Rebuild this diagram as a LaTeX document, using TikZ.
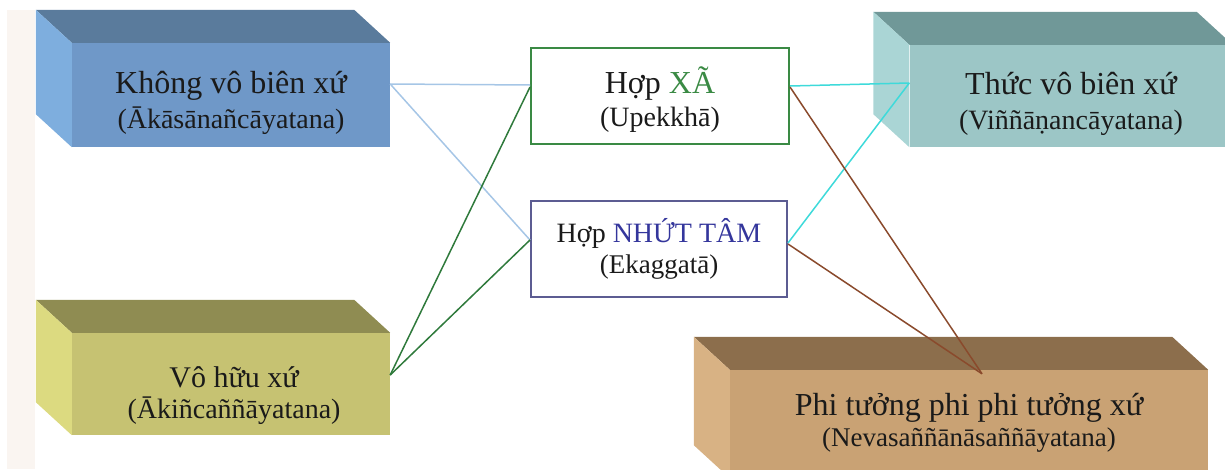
\documentclass[tikz,border=0pt]{standalone}
\usepackage{fontspec}
\setmainfont{Liberation Serif}
\usetikzlibrary{positioning,calc}

\definecolor{txtdark}{HTML}{1A1A1A}
\definecolor{stripbg}{HTML}{FAF5F1}
\definecolor{kvbFront}{HTML}{6F98C8}
\definecolor{kvbTop}{HTML}{5A7B9C}
\definecolor{kvbSide}{HTML}{7EAEDE}
\definecolor{tvbFront}{HTML}{9CC6C6}
\definecolor{tvbTop}{HTML}{709898}
\definecolor{tvbSide}{HTML}{AAD5D5}
\definecolor{vhxFront}{HTML}{C6C272}
\definecolor{vhxTop}{HTML}{8F8C52}
\definecolor{vhxSide}{HTML}{DCDA80}
\definecolor{ptFront}{HTML}{C9A274}
\definecolor{ptTop}{HTML}{8C6E4C}
\definecolor{ptSide}{HTML}{D8B284}
\definecolor{xaGreen}{HTML}{3A8A44}
\definecolor{ntBlue}{HTML}{5C5C92}
\definecolor{ntText}{HTML}{34369C}
\definecolor{lineBlue}{HTML}{A6C6E6}
\definecolor{lineGreen}{HTML}{2F7A3C}
\definecolor{lineCyan}{HTML}{3EDADA}
\definecolor{lineBrown}{HTML}{8A4A2C}

\begin{document}
\begin{tikzpicture}[x=1pt, y=-1pt,
    face/.style={rectangle, inner sep=0pt},
    lbl/.style={inner sep=0pt, align=center, text=txtdark, font=\fontsize{32}{35}\selectfont},
    mid/.style={rectangle, inner sep=0pt, fill=white, draw, line width=2pt},
    link/.style={line width=1.5pt}]
  \useasboundingbox (0,0) rectangle (1225,469);
  \fill[stripbg] (7,10) rectangle (35,469);

  % front faces of the four blocks
  \node[face, fill=kvbFront, minimum width=318pt, minimum height=104pt] (kvb) at (231,95) {};
  \node[face, fill=tvbFront, minimum width=323pt, minimum height=102pt] (tvb) at (1071,96) {};
  \node[face, fill=vhxFront, minimum width=318pt, minimum height=102pt] (vhx) at (231,384) {};
  \node[face, fill=ptFront, minimum width=478pt, minimum height=108pt] (pt) at (969,424) {};

  % top and side faces
  \foreach \b/\ct/\cs in {kvb/kvbTop/kvbSide, tvb/tvbTop/tvbSide, vhx/vhxTop/vhxSide, pt/ptTop/ptSide} {
    \fill[\ct] ($(\b.north west)+(-36,-33)$) -- ($(\b.north east)+(-36,-33)$)
      -- (\b.north east) -- (\b.north west) -- cycle;
    \fill[\cs] ($(\b.north west)+(-36,-33)$) -- (\b.north west)
      -- (\b.south west) -- ($(\b.south west)+(-36,-33)$) -- cycle;
  }

  % the two middle boxes
  \node[mid, draw=xaGreen, minimum width=258pt, minimum height=96pt] (xa) at (660,96) {};
  \node[mid, draw=ntBlue, minimum width=256pt, minimum height=96pt] (nt) at (659,249) {};

  % texts
  \node[lbl] (kvbtext) at ([yshift=-8pt]kvb.center)
    {Không vô biên xứ\\{\fontsize{28}{35}\selectfont (Ākāsānañcāyatana)}};
  \node[lbl] (tvbtext) at ([yshift=-8pt]tvb.center)
    {Thức vô biên xứ\\{\fontsize{28}{35}\selectfont (Viññāṇancāyatana)}};
  \node[lbl, font=\fontsize{30}{31}\selectfont] (vhxtext) at ([xshift=3pt, yshift=-12pt]vhx.center)
    {Vô hữu xứ\\{\fontsize{28}{31}\selectfont (Ākiñcaññāyatana)}};
  \node[lbl, font=\fontsize{32}{31}\selectfont] (pttext) at ([yshift=1pt]pt.center)
    {Phi tưởng phi phi tưởng xứ\\{\fontsize{27}{31}\selectfont (Nevasaññānāsaññāyatana)}};
  \node[lbl, font=\fontsize{32}{33}\selectfont] (xatext) at ([yshift=-4pt]xa.center)
    {Hợp {\color{xaGreen}XÃ}\\{\fontsize{28}{33}\selectfont (Upekkhā)}};
  \node[lbl, font=\fontsize{28}{31}\selectfont] (nttext) at (nt.center)
    {Hợp {\color{ntText}NHỨT TÂM}\\{\fontsize{27}{31}\selectfont (Ekaggatā)}};

  \coordinate (ptin) at ([xshift=13pt, yshift=-4pt]pt.north);

  \draw[link, lineBlue] ([yshift=11pt]kvb.east) -- ([yshift=11pt]xa.west);
  \draw[link, lineBlue] ([yshift=11pt]kvb.east) -- ([yshift=9pt]nt.west);
  \draw[link, lineGreen] ([yshift=9pt]vhx.east) -- ([yshift=9pt]xa.west);
  \draw[link, lineGreen] ([yshift=9pt]vhx.east) -- ([yshift=9pt]nt.west);
  \draw[link, lineCyan] ([yshift=10pt]xa.east) -- ([yshift=13pt]tvb.west);
  \draw[link, lineCyan] ([yshift=6pt]nt.east) -- ([yshift=13pt]tvb.west);
  \draw[link, lineBrown] ([yshift=9pt]xa.east) -- (ptin);
  \draw[link, lineBrown] ([yshift=5pt]nt.east) -- (ptin);
\end{tikzpicture}
\end{document}
